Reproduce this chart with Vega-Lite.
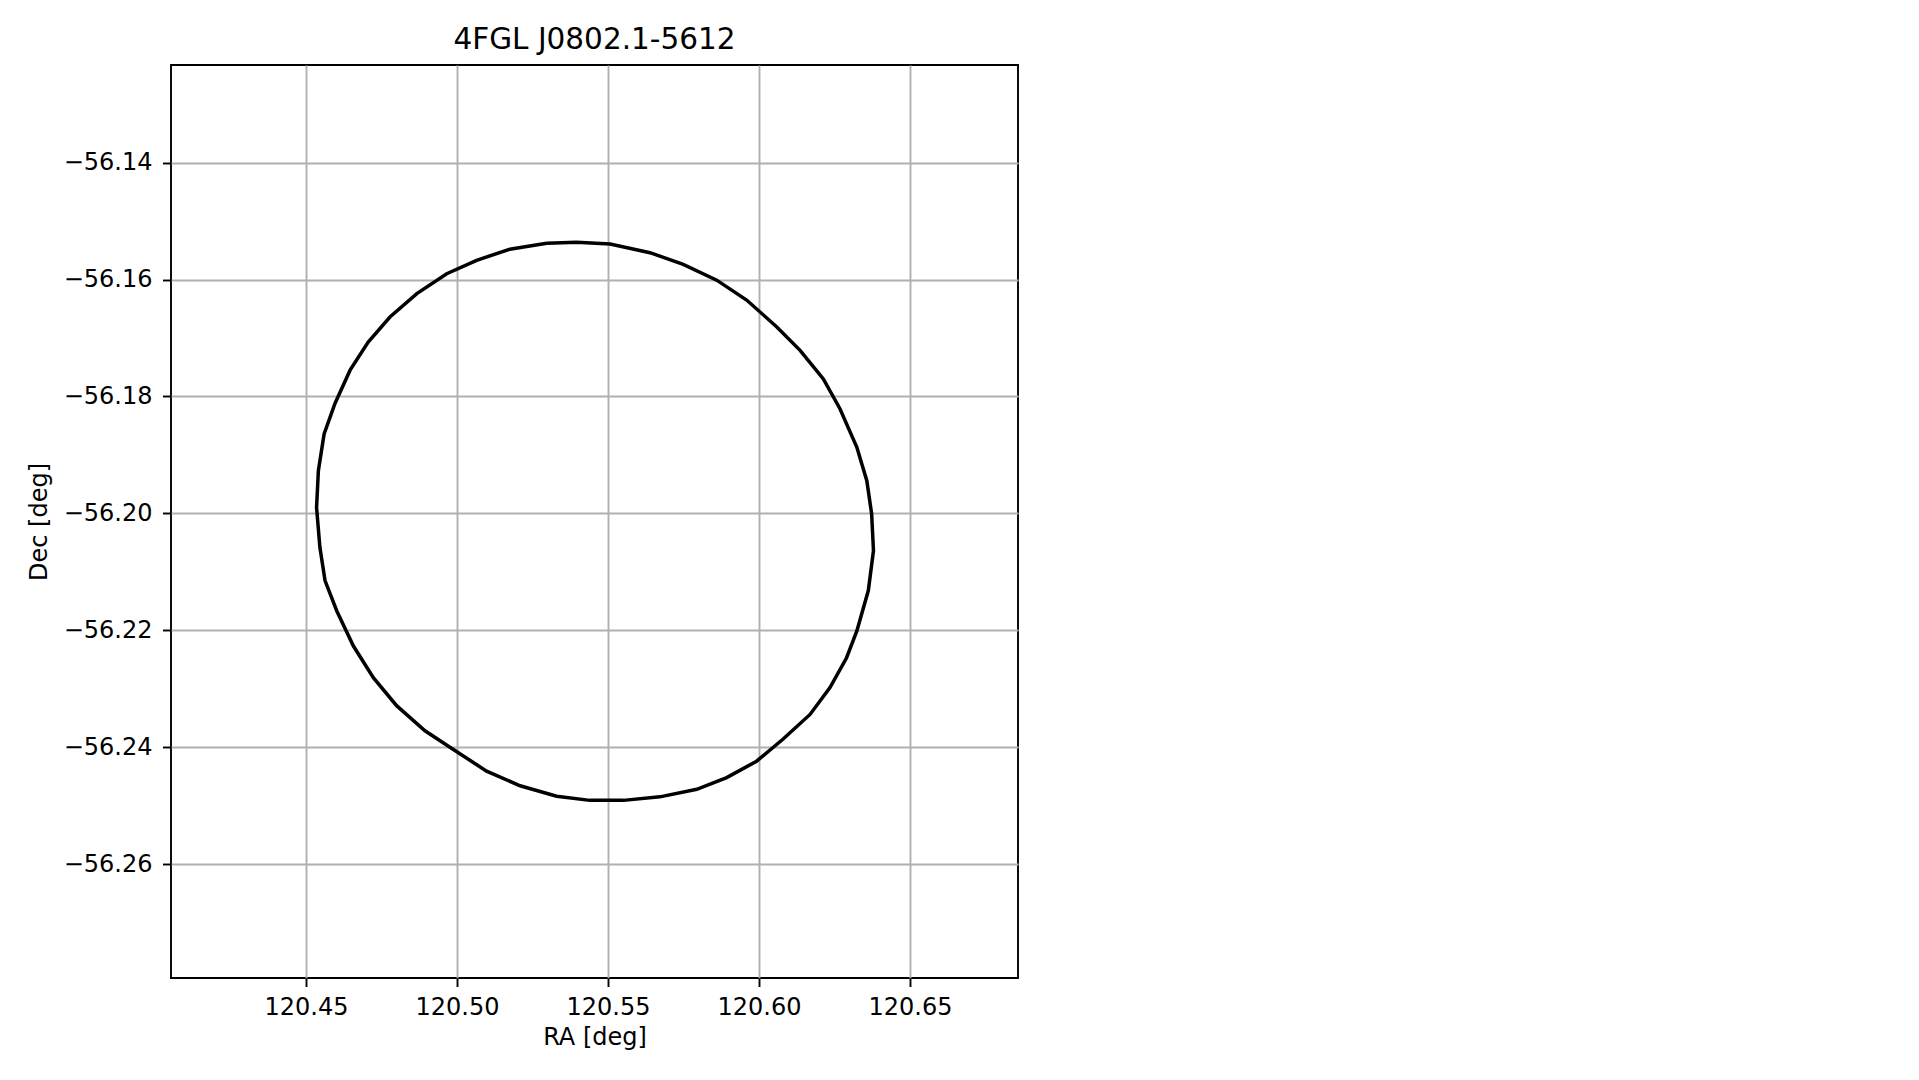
{
  "$schema": "https://vega.github.io/schema/vega-lite/v6.json",
  "autosize": "none",
  "padding": {"left": 171, "top": 65, "right": 901, "bottom": 102},
  "width": 847,
  "height": 913,
  "background": "white",
  "title": {
    "text": "4FGL J0802.1-5612",
    "font": "DejaVu Sans",
    "fontSize": 29.5,
    "fontWeight": "normal",
    "color": "black",
    "anchor": "middle",
    "baseline": "alphabetic",
    "offset": -13
  },
  "config": {
    "view": {"stroke": "black", "strokeWidth": 1.9},
    "axis": {
      "domain": false,
      "labelFont": "DejaVu Sans",
      "labelFontSize": 24,
      "labelColor": "black",
      "tickColor": "black",
      "tickWidth": 1.9,
      "tickSize": 8.5,
      "titleFont": "DejaVu Sans",
      "titleFontSize": 24,
      "titleFontWeight": "normal",
      "titleColor": "black",
      "grid": true,
      "gridColor": "#b0b0b0",
      "gridWidth": 1.9,
      "gridOpacity": 1,
      "labelFlush": false,
      "labelOverlap": false
    }
  },
  "data": {
    "values": [
      {"i": 1, "ra": 120.5297, "dec": -56.1538},
      {"i": 2, "ra": 120.5396, "dec": -56.1536},
      {"i": 3, "ra": 120.5507, "dec": -56.1539},
      {"i": 4, "ra": 120.5639, "dec": -56.1554},
      {"i": 5, "ra": 120.5749, "dec": -56.1574},
      {"i": 6, "ra": 120.5860, "dec": -56.1601},
      {"i": 7, "ra": 120.5959, "dec": -56.1635},
      {"i": 8, "ra": 120.6059, "dec": -56.1681},
      {"i": 9, "ra": 120.6136, "dec": -56.1721},
      {"i": 10, "ra": 120.6213, "dec": -56.1770},
      {"i": 11, "ra": 120.6268, "dec": -56.1821},
      {"i": 12, "ra": 120.6324, "dec": -56.1887},
      {"i": 13, "ra": 120.6357, "dec": -56.1944},
      {"i": 14, "ra": 120.6373, "dec": -56.2001},
      {"i": 15, "ra": 120.6379, "dec": -56.2064},
      {"i": 16, "ra": 120.6362, "dec": -56.2132},
      {"i": 17, "ra": 120.6324, "dec": -56.2201},
      {"i": 18, "ra": 120.6290, "dec": -56.2247},
      {"i": 19, "ra": 120.6235, "dec": -56.2298},
      {"i": 20, "ra": 120.6169, "dec": -56.2344},
      {"i": 21, "ra": 120.6080, "dec": -56.2386},
      {"i": 22, "ra": 120.5992, "dec": -56.2424},
      {"i": 23, "ra": 120.5893, "dec": -56.2452},
      {"i": 24, "ra": 120.5794, "dec": -56.2472},
      {"i": 25, "ra": 120.5672, "dec": -56.2485},
      {"i": 26, "ra": 120.5551, "dec": -56.2491},
      {"i": 27, "ra": 120.5440, "dec": -56.2491},
      {"i": 28, "ra": 120.5330, "dec": -56.2484},
      {"i": 29, "ra": 120.5209, "dec": -56.2466},
      {"i": 30, "ra": 120.5098, "dec": -56.2441},
      {"i": 31, "ra": 120.4988, "dec": -56.2404},
      {"i": 32, "ra": 120.4894, "dec": -56.2372},
      {"i": 33, "ra": 120.4800, "dec": -56.2329},
      {"i": 34, "ra": 120.4723, "dec": -56.2281},
      {"i": 35, "ra": 120.4657, "dec": -56.2227},
      {"i": 36, "ra": 120.4602, "dec": -56.2167},
      {"i": 37, "ra": 120.4563, "dec": -56.2115},
      {"i": 38, "ra": 120.4546, "dec": -56.2058},
      {"i": 39, "ra": 120.4535, "dec": -56.1990},
      {"i": 40, "ra": 120.4541, "dec": -56.1927},
      {"i": 41, "ra": 120.4560, "dec": -56.1864},
      {"i": 42, "ra": 120.4596, "dec": -56.1812},
      {"i": 43, "ra": 120.4646, "dec": -56.1755},
      {"i": 44, "ra": 120.4706, "dec": -56.1707},
      {"i": 45, "ra": 120.4778, "dec": -56.1664},
      {"i": 46, "ra": 120.4867, "dec": -56.1624},
      {"i": 47, "ra": 120.4966, "dec": -56.1590},
      {"i": 48, "ra": 120.5065, "dec": -56.1567},
      {"i": 49, "ra": 120.5175, "dec": -56.1548},
      {"i": 50, "ra": 120.5297, "dec": -56.1538}
    ]
  },
  "mark": {"type": "line", "color": "black", "strokeWidth": 3.5, "clip": true},
  "encoding": {
    "x": {
      "field": "ra",
      "type": "quantitative",
      "title": "RA [deg]",
      "scale": {"domain": [120.4053, 120.68576], "nice": false, "zero": false},
      "axis": {
        "values": [120.45, 120.5, 120.55, 120.6, 120.65],
        "format": ".2f",
        "labelPadding": 9,
        "titlePadding": 6
      }
    },
    "y": {
      "field": "dec",
      "type": "quantitative",
      "title": "Dec [deg]",
      "scale": {"domain": [-56.27949, -56.12329], "nice": false, "zero": false},
      "axis": {
        "values": [-56.26, -56.24, -56.22, -56.2, -56.18, -56.16, -56.14],
        "format": ".2f",
        "labelPadding": 10.5,
        "titlePadding": 12
      }
    },
    "order": {"field": "i", "type": "quantitative"}
  }
}
